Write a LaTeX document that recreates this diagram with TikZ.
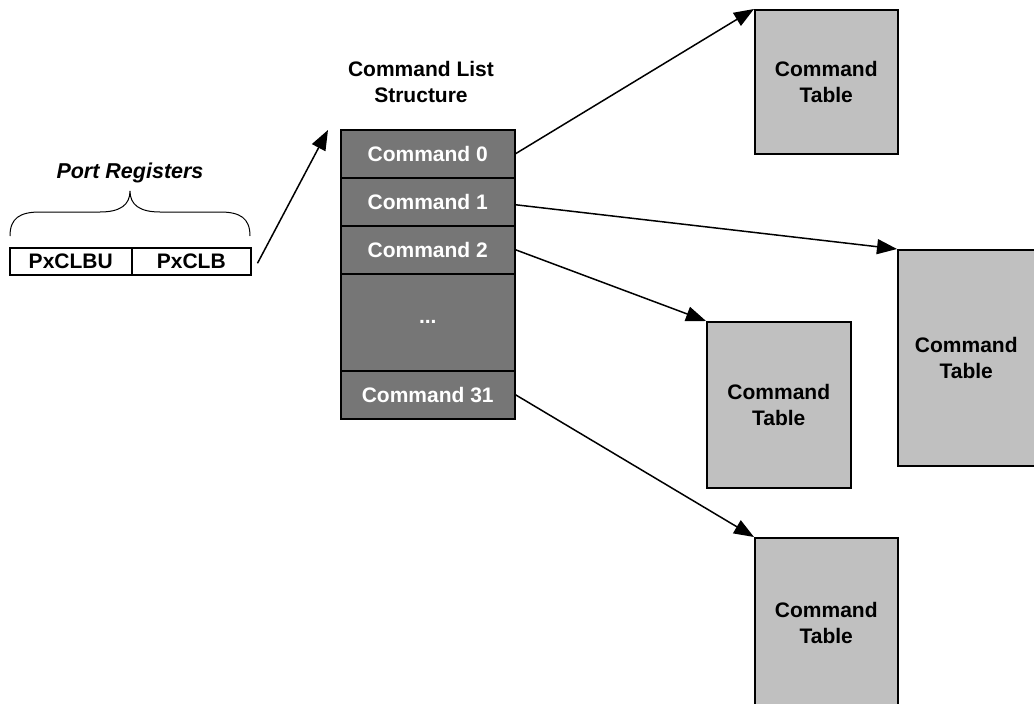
\documentclass[tikz,border=0pt]{standalone}
\usepackage{fontspec}
\setmainfont{Liberation Sans}
\usetikzlibrary{arrows.meta}
\definecolor{rowgray}{HTML}{767676}
\definecolor{tabgray}{HTML}{C0C0C0}
\begin{document}
\begin{tikzpicture}[x=1pt,y=-1pt,
  txt/.style={font=\fontsize{21}{25.5}\selectfont\bfseries, align=center},
  row/.style={draw=black, line width=1.5pt, fill=rowgray, text=white, txt,
    minimum width=174pt, inner sep=0pt, anchor=north west},
  tbl/.style={draw=black, line width=1.5pt, fill=tabgray, txt, inner sep=0pt, anchor=north west},
  reg/.style={draw=black, line width=1.5pt, font=\fontsize{21}{22}\selectfont\bfseries,
    inner sep=0pt, minimum height=27pt, anchor=north west},
  conn/.style={line width=1.5pt, -{Triangle[length=20pt,width=15pt]}}
]
\useasboundingbox (0,0) rectangle (1034,704);
% command list
\node[txt] (title) at (421,82) {Command List\\Structure};
\node[row, minimum height=48pt] (c0) at (340,129) {Command 0};
\node[row, minimum height=48pt] (c1) at (340,177) {Command 1};
\node[row, minimum height=48pt] (c2) at (340,225) {Command 2};
\node[row, minimum height=97pt] (cd) at (340,273) {...};
\node[row, minimum height=48pt] (c31) at (340,370) {Command 31};
% tables
\node[tbl, minimum width=143pt, minimum height=144pt] (t1) at (754,9) {Command\\Table};
\node[tbl, minimum width=137pt, minimum height=216pt] (t2) at (897,249) {Command\\Table};
\node[tbl, minimum width=144pt, minimum height=166pt] (t3) at (706,321) {Command\\Table};
\node[tbl, minimum width=143pt, minimum height=170pt] (t4) at (754,537) {Command\\Table};
% port registers
\node[reg, minimum width=122pt] (r1) at (9,247) {PxCLBU};
\node[reg, minimum width=119pt] (r2) at (131,247) {PxCLB};
\node[font=\fontsize{21.5}{24}\selectfont\bfseries\itshape] (pr) at (130,173) {Port Registers};
\draw[line width=1pt] (10,236) .. controls (10,218) and (20,212) .. (40,212) -- (100,212)
  .. controls (120,212) and (130,205) .. (130,191)
  .. controls (130,205) and (140,212) .. (160,212) -- (220,212)
  .. controls (240,212) and (250,218) .. (250,236);
% connectors
\coordinate (lp) at ([xshift=-12pt,yshift=-1pt]c0.north west);
\draw[conn] ([xshift=6pt,yshift=-2pt]r2.east) -- (lp);
\draw[conn] (c0.east) -- (t1.north west);
\draw[conn] ([yshift=-3pt]c1.east) -- (t2.north west);
\draw[conn] (c2.east) -- (t3.north west);
\draw[conn] (c31.east) -- (t4.north west);
\end{tikzpicture}
\end{document}
